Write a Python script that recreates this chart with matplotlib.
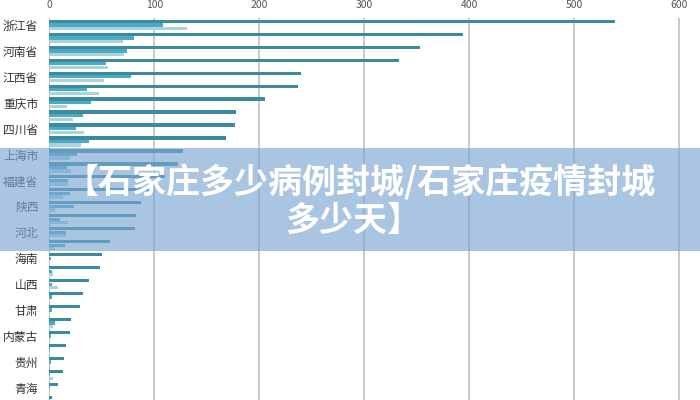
import matplotlib.pyplot as plt
import numpy as np
from matplotlib.patches import Rectangle

plt.rcParams['font.family'] = ['Noto Sans CJK SC', 'DejaVu Sans']

# only every other category carries a label in the source chart
labels = ['浙江省', '河南省', '江西省', '重庆市', '四川省', '上海市', '福建省', '陕西',
          '河北', '海南', '山西', '甘肃', '内蒙古', '贵州', '青海']

series_a = [539, 394, 353, 333, 240, 237, 206, 178, 177, 168, 127, 123, 110, 100, 87,
            83, 82, 58, 50, 48, 38, 32, 29, 21, 20, 16, 14, 13, 8, 3]
series_b = [108, 81, 74, 54, 78, 36, 40, 32, 25, 38, 26, 17, 18, 20, 24,
            10, 16, 15, 2, 3, 3, 3, 3, 5, 2, 1, 2, 1, 1, 1]
series_c = [131, 70, 71, 56, 52, 47, 17, 23, 33, 30, 20, 21, 18, 13, 5,
            18, 16, 5, 1, 4, 8, 1, 1, 4, 1, 0.5, 1, 3.5, 1, 1]

fig = plt.figure(figsize=(7, 4), dpi=100)
ax = fig.add_axes([0.0704, 0.0, 0.9296, 0.955])

y = np.arange(len(series_a))
h = 0.25
ax.barh(y - 0.28, series_a, height=h, color='#3a8b9f', zorder=3)
ax.barh(y, series_b, height=h, color='#4cabc2', zorder=3)
ax.barh(y + 0.27, series_c, height=h, color='#aad3e0', zorder=3)

ax.set_xlim(0, 620)
ax.set_ylim(28.94, -0.54)
ax.set_xticks(range(0, 700, 100))
ax.xaxis.tick_top()
ax.tick_params(axis='x', length=0, pad=6, labelsize=7.5, labelcolor='#555555')
ax.set_yticks(y[::2])
ax.set_yticklabels(labels)
ax.tick_params(axis='y', length=0, pad=8, labelsize=8.5, labelcolor='#333333')
ax.grid(axis='x', color='#bcbcbc', linewidth=1.1, zorder=0)
for s in ax.spines.values():
    s.set_visible(False)
ax.axvline(0, color='#bcbcbc', linewidth=1.1, zorder=1)

# translucent title banner across the chart
fig.add_artist(Rectangle((0, 0.3725), 1, 0.2575, transform=fig.transFigure,
                         facecolor='#7ba6d3', alpha=0.65, edgecolor='none', zorder=5))
fig.text(0.515, 0.543, '【石家庄多少病例封城/石家庄疫情封城', ha='center', va='center',
         color='white', fontsize=24.5, fontweight='heavy', zorder=6)
fig.text(0.505, 0.45, '多少天】', ha='center', va='center',
         color='white', fontsize=24.5, fontweight='heavy', zorder=6)

fig.savefig('out.png', dpi=100)
